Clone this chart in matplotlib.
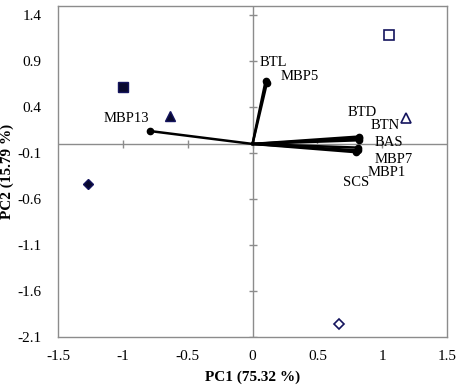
import numpy as np
import matplotlib.pyplot as plt

plt.rcParams['font.family'] = ['Liberation Serif', 'DejaVu Serif']

# sample scores (PC1, PC2)
score_x = [-1.00, -0.64, -1.27, 1.055, 1.18, 0.67]
score_y = [0.62, 0.305, -0.44, 1.18, 0.28, -1.96]
score_mark = ['s', '^', 'D', 's', '^', 'D']
score_fill = [True, True, True, False, False, False]

# variable loadings (vectors from origin)
var_names = ['MBP13', 'BTL', 'MBP5', 'BTD', 'BTN', 'BAS', 'MBP7', 'MBP1', 'SCS']
var_x = [-0.79, 0.10, 0.11, 0.82, 0.82, 0.82, 0.81, 0.81, 0.80]
var_y = [0.14, 0.68, 0.66, 0.08, 0.06, 0.04, -0.04, -0.07, -0.09]
# label anchor points (left edge, vertical centre)
lab_x = [-1.145, 0.058, 0.217, 0.736, 0.914, 0.944, 0.944, 0.89, 0.70]
lab_y = [0.28, 0.89, 0.73, 0.34, 0.205, 0.02, -0.17, -0.31, -0.42]

xticks = [-1.5, -1, -0.5, 0, 0.5, 1, 1.5]
xticklabels = ['-1.5', '-1', '-0.5', '0', '0.5', '1', '1.5']
yticks = [-2.1, -1.6, -1.1, -0.6, -0.1, 0.4, 0.9, 1.4]

navy = '#14145e'
grey = '#8c8c8c'

fig = plt.figure(figsize=(4.59, 3.88), dpi=100)
ax = fig.add_axes([0.1264, 0.1314, 0.8476, 0.8531])
ax.set_xlim(-1.5, 1.5)
ax.set_ylim(-2.1, 1.5)

for s in ax.spines.values():
    s.set_color(grey)
    s.set_linewidth(1.0)

# axes through origin with crossing tick marks
ax.axhline(0, color=grey, lw=1.0, zorder=1)
ax.axvline(0, color=grey, lw=1.0, zorder=1)
ax.plot([t for t in xticks if -1.5 < t < 1.5], [0] * 5, ls='none', marker='|',
        ms=6, mew=1.0, color=grey, zorder=1)
ax.plot([0] * len(yticks), yticks, ls='none', marker='_',
        ms=6, mew=1.0, color=grey, zorder=1)

for x, y in zip(var_x, var_y):
    ax.plot([0, x], [0, y], color='black', lw=1.8, zorder=2)
    ax.plot(x, y, 'o', color='black', ms=4.5, zorder=3)

for n, x, y in zip(var_names, lab_x, lab_y):
    ax.text(x, y, n, fontsize=10.5, ha='left', va='center', zorder=4)

for x, y, m, f in zip(score_x, score_y, score_mark, score_fill):
    ms = 5.5 if m == 'D' else 6.5
    if f:
        ax.plot(x, y, m, ms=ms, mfc='#08082e', mec=navy, mew=1.0, zorder=3)
    else:
        ax.plot(x, y, m, ms=ms, mfc='white', mec=navy, mew=1.2, zorder=3)

ax.set_xticks(xticks)
ax.set_xticklabels(xticklabels)
ax.set_yticks(yticks)
ax.set_yticklabels([f'{t:.1f}' for t in yticks])
ax.tick_params(length=0, labelsize=11, pad=9)
ax.tick_params(axis='y', pad=12)

ax.set_xlabel('PC1 (75.32 %)', fontsize=11, fontweight='bold', labelpad=6)
ax.set_ylabel('PC2 (15.79 %)', fontsize=11, fontweight='bold', labelpad=2)

fig.savefig('out.png', dpi=100)
